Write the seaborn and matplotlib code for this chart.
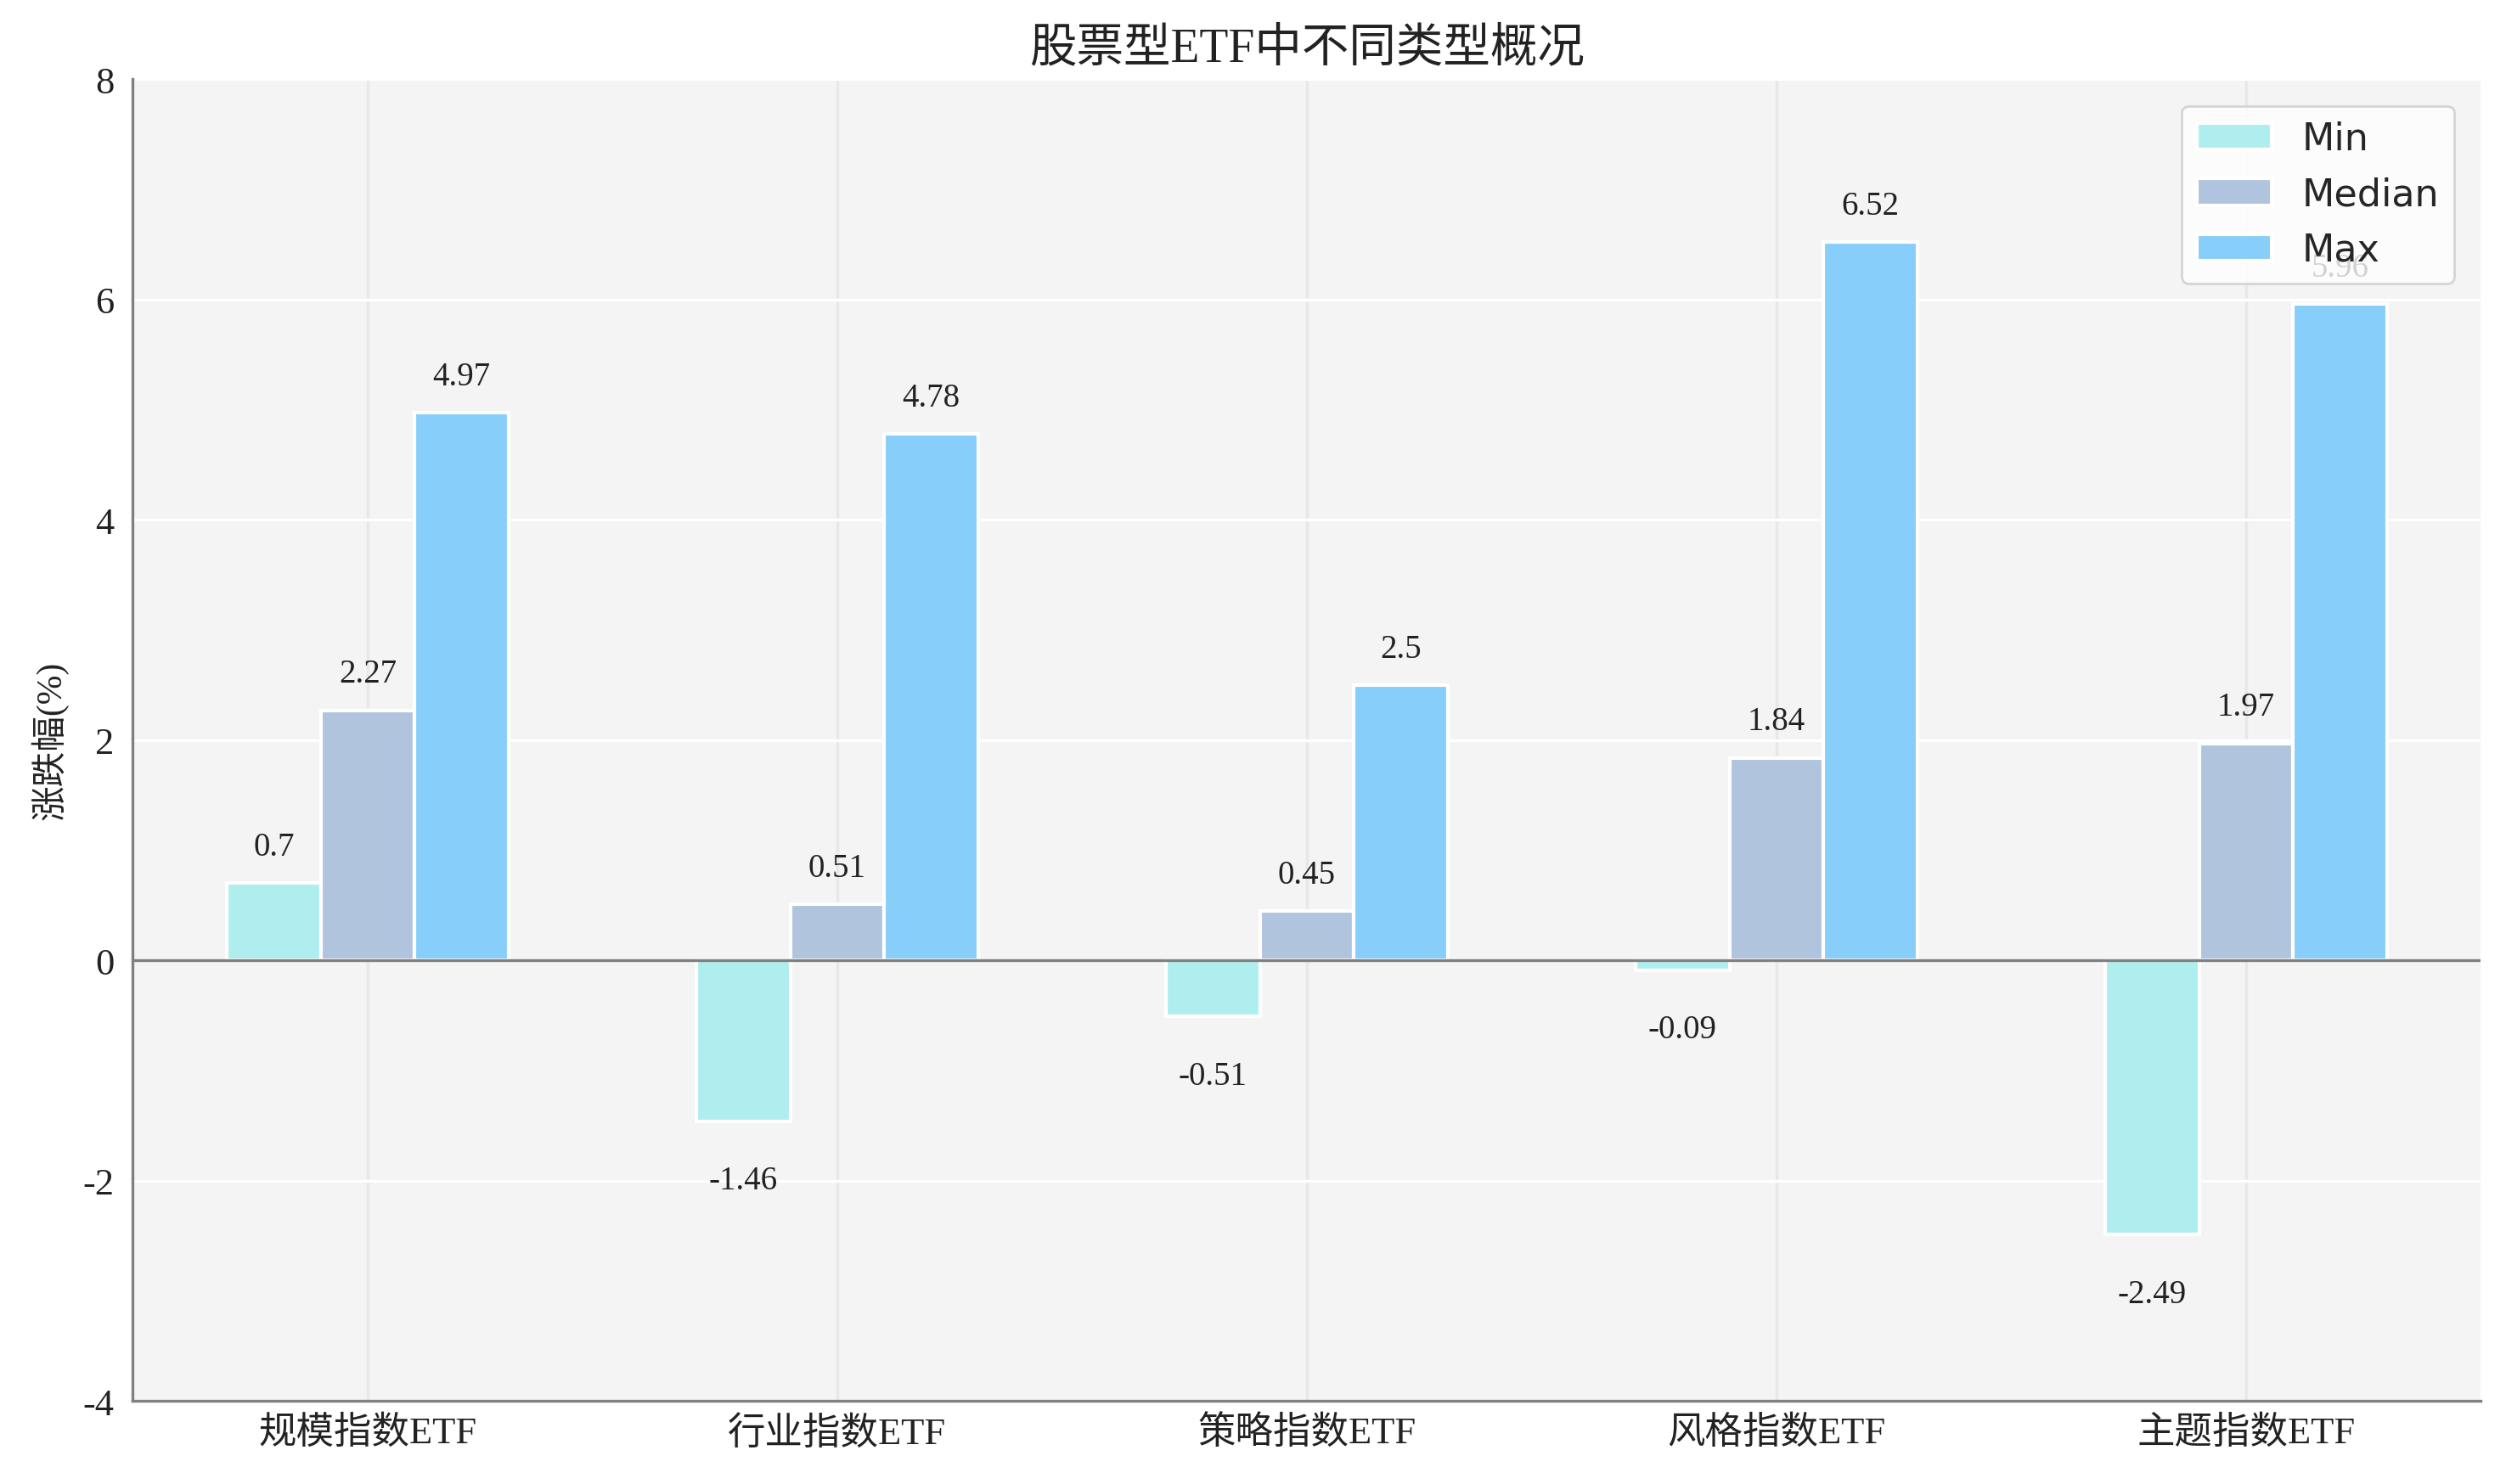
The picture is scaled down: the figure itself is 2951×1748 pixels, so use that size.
import pandas as pd
import seaborn as sns
import matplotlib.pyplot as plt

# data
categories = ['规模指数ETF', '行业指数ETF', '策略指数ETF', '风格指数ETF', '主题指数ETF']
min_vals = [0.7, -1.46, -0.51, -0.09, -2.49]
median_vals = [2.27, 0.51, 0.45, 1.84, 1.97]
max_vals = [4.97, 4.78, 2.5, 6.52, 5.96]
series = ['Min', 'Median', 'Max']
colors = ['#AFEEEE', '#B0C4DE', '#87CEFA']

df = pd.DataFrame({'category': categories, 'Min': min_vals,
                   'Median': median_vals, 'Max': max_vals})
long_df = df.melt(id_vars='category', var_name='stat', value_name='value')

sns.set_style('whitegrid')
plt.rcParams['font.family'] = ['Liberation Serif', 'Noto Sans CJK SC', 'DejaVu Sans']
plt.rcParams['axes.unicode_minus'] = False

fig, ax = plt.subplots(figsize=(14.755, 8.745), dpi=200)
ax.set_facecolor('#f4f4f4')

sns.barplot(data=long_df, x='category', y='value', hue='stat', hue_order=series,
            palette=colors, width=0.6, edgecolor='white', linewidth=1.5,
            saturation=1, ax=ax, zorder=2)

# value labels
for container in ax.containers:
    for bar in container:
        h = bar.get_height()
        x = bar.get_x() + bar.get_width() / 2
        y = h + 0.33 if h >= 0 else h - 0.54
        ax.text(x, y, f'{h:g}', ha='center', va='center', fontsize=14,
                color='#222222', zorder=3)

ax.axhline(0, color='#808080', linewidth=1.2, zorder=3)
ax.set_ylim(-4, 8)
ax.set_xlim(-0.5, 4.5)

ax.grid(axis='y', color='white', linewidth=1.2, zorder=0)
ax.grid(axis='x', color='#e8e8e8', linewidth=1.2, zorder=0)
ax.set_axisbelow(True)

for side in ['top', 'right']:
    ax.spines[side].set_visible(False)
for side in ['left', 'bottom']:
    ax.spines[side].set_color('#808080')
    ax.spines[side].set_linewidth(1.2)

ax.tick_params(axis='both', labelsize=16, colors='#222222', length=0)
ax.tick_params(axis='y', pad=8)
ax.tick_params(axis='x', pad=6)
ax.set_xlabel('')
ax.set_ylabel('涨跌幅(%)', fontsize=15, color='#222222', labelpad=6)
ax.set_title('股票型ETF中不同类型概况', fontsize=20, color='#222222', pad=8)

leg = ax.legend(loc='upper right', frameon=True, framealpha=0.8,
                edgecolor='#cccccc', borderaxespad=0.7,
                prop={'family': 'DejaVu Sans', 'size': 16})
leg.set_zorder(5)

fig.subplots_adjust(left=0.053, right=0.99, top=0.946, bottom=0.056)
plt.savefig('out.png')
